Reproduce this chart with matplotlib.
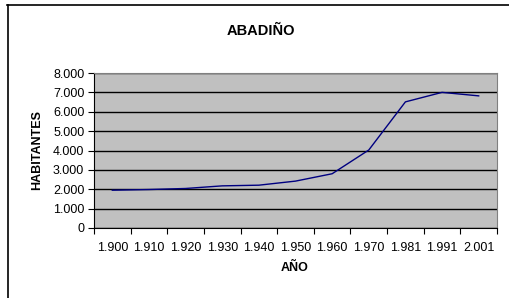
import matplotlib.pyplot as plt
from matplotlib.lines import Line2D
from matplotlib.ticker import FuncFormatter

plt.rcParams['font.family'] = ['Liberation Sans', 'DejaVu Sans']

years = ["1.900", "1.910", "1.920", "1.930", "1.940", "1.950",
         "1.960", "1.970", "1.981", "1.991", "2.001"]
habitantes = [1950, 1985, 2040, 2175, 2210, 2420, 2800, 4025, 6510, 7000, 6820]

W, H = 509, 298
fig = plt.figure(figsize=(W / 100, H / 100), dpi=100)
ax = fig.add_axes([94 / W, 1 - 228 / H, (497 - 94) / W, (228 - 73) / H])

# marco exterior del gráfico
fig.add_artist(Line2D([7 / W, 1], [1 - 4.5 / H, 1 - 4.5 / H], color="black", lw=1.2,
                      transform=fig.transFigure))
fig.add_artist(Line2D([7.5 / W, 7.5 / W], [0, 1 - 4.5 / H], color="black", lw=1.2,
                      transform=fig.transFigure))

x = list(range(len(years)))
ax.set_facecolor("#c0c0c0")
ax.plot(x, habitantes, color="#000080", lw=1)

ax.set_xlim(-0.5, len(years) - 0.5)
ax.set_ylim(0, 8000)
ax.set_yticks(range(0, 8001, 1000))
ax.yaxis.set_major_formatter(FuncFormatter(lambda v, p: f"{int(v):,}".replace(",", ".")))
ax.grid(axis="y", color="black", lw=1)
ax.set_axisbelow(True)

ax.set_xticks([i - 0.5 for i in range(len(years) + 1)])
ax.set_xticklabels([])
ax.set_xticks(x, minor=True)
ax.set_xticklabels(years, minor=True)
ax.tick_params(axis="x", which="minor", length=0, pad=10, labelsize=9)
ax.tick_params(axis="x", which="major", length=4, direction="out", color="black")
ax.tick_params(axis="y", length=4, color="black", pad=3, labelsize=9)

for s in ["top", "right"]:
    ax.spines[s].set_color("#808080")
for s in ["left", "bottom"]:
    ax.spines[s].set_color("black")

fig.text(261 / W, 1 - 31 / H, "ABADIÑO", ha="center", va="center",
         fontsize=10.5, fontweight="bold")
fig.text(37 / W, 1 - 150 / H, "HABITANTES", ha="center", va="center",
         rotation=90, fontsize=9, fontweight="bold")
fig.text(295 / W, 1 - 268 / H, "AÑO", ha="center", va="center",
         fontsize=9, fontweight="bold")

fig.savefig("out.png", dpi=100)
